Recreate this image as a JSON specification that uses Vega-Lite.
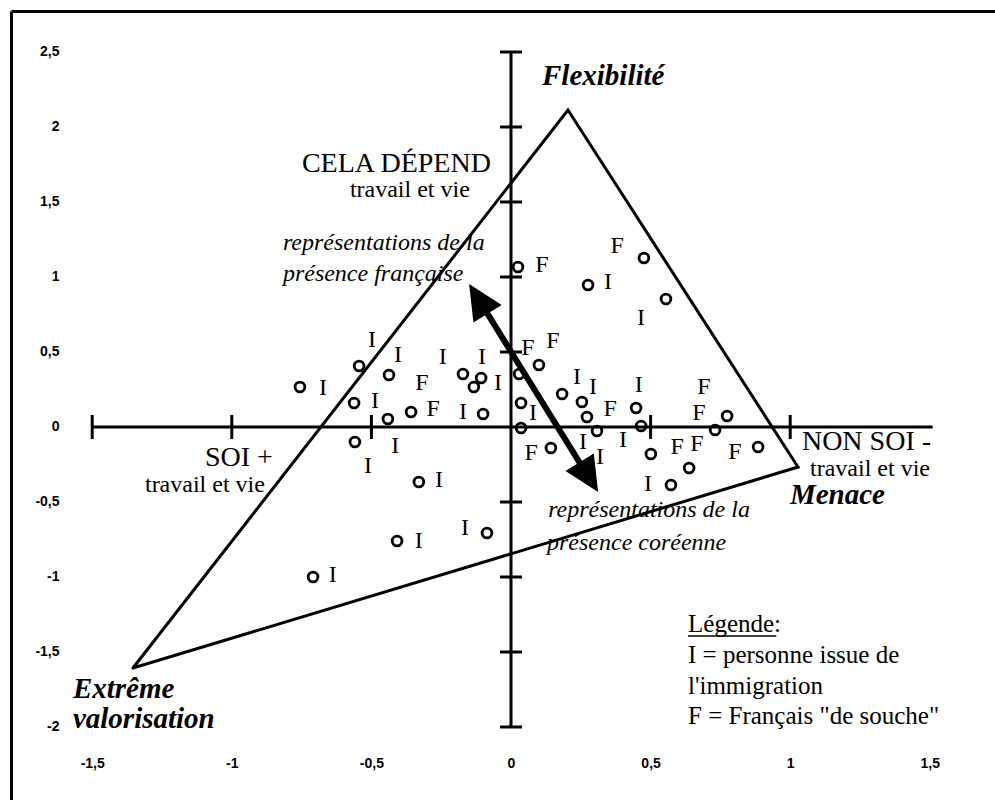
{
  "$schema": "https://vega.github.io/schema/vega-lite/v6.json",
  "width": 984,
  "height": 789,
  "autosize": {"type": "none"},
  "padding": {"left": 11, "top": 11, "right": 0, "bottom": 0},
  "background": "white",
  "config": {"view": {"stroke": null}, "font": "Liberation Serif"},
  "datasets": {
    "points": [
      {"x": -0.756, "y": 0.267}, {"x": -0.544, "y": 0.407}, {"x": -0.437, "y": 0.347},
      {"x": -0.562, "y": 0.160}, {"x": -0.441, "y": 0.053}, {"x": -0.358, "y": 0.100},
      {"x": -0.559, "y": -0.100}, {"x": -0.172, "y": 0.353}, {"x": -0.107, "y": 0.327},
      {"x": -0.133, "y": 0.267}, {"x": -0.100, "y": 0.087}, {"x": -0.330, "y": -0.367},
      {"x": -0.408, "y": -0.760}, {"x": -0.086, "y": -0.707}, {"x": -0.709, "y": -1.000},
      {"x": 0.025, "y": 1.067}, {"x": 0.276, "y": 0.947}, {"x": 0.476, "y": 1.127},
      {"x": 0.555, "y": 0.853}, {"x": 0.100, "y": 0.413}, {"x": 0.029, "y": 0.353},
      {"x": 0.036, "y": 0.160}, {"x": 0.036, "y": -0.007}, {"x": 0.183, "y": 0.220},
      {"x": 0.254, "y": 0.167}, {"x": 0.272, "y": 0.067}, {"x": 0.308, "y": -0.027},
      {"x": 0.448, "y": 0.127}, {"x": 0.466, "y": 0.007}, {"x": 0.774, "y": 0.073},
      {"x": 0.731, "y": -0.020}, {"x": 0.143, "y": -0.140}, {"x": 0.501, "y": -0.180},
      {"x": 0.638, "y": -0.273}, {"x": 0.573, "y": -0.387}, {"x": 0.885, "y": -0.133}
    ],
    "labels": [
      {"x": -0.673, "y": 0.260, "label": "I"}, {"x": -0.498, "y": 0.580, "label": "I"},
      {"x": -0.405, "y": 0.480, "label": "I"}, {"x": -0.487, "y": 0.173, "label": "I"},
      {"x": -0.415, "y": -0.127, "label": "I"}, {"x": -0.512, "y": -0.260, "label": "I"},
      {"x": -0.244, "y": 0.467, "label": "I"}, {"x": -0.104, "y": 0.467, "label": "I"},
      {"x": -0.047, "y": 0.293, "label": "I"}, {"x": -0.172, "y": 0.100, "label": "I"},
      {"x": -0.258, "y": -0.353, "label": "I"}, {"x": -0.330, "y": -0.760, "label": "I"},
      {"x": -0.165, "y": -0.673, "label": "I"}, {"x": -0.638, "y": -0.987, "label": "I"},
      {"x": 0.347, "y": 0.967, "label": "I"}, {"x": 0.466, "y": 0.727, "label": "I"},
      {"x": 0.079, "y": 0.093, "label": "I"}, {"x": 0.236, "y": 0.333, "label": "I"},
      {"x": 0.294, "y": 0.267, "label": "I"}, {"x": 0.458, "y": 0.280, "label": "I"},
      {"x": 0.258, "y": -0.100, "label": "I"}, {"x": 0.319, "y": -0.200, "label": "I"},
      {"x": 0.401, "y": -0.087, "label": "I"}, {"x": 0.491, "y": -0.380, "label": "I"},
      {"x": -0.319, "y": 0.293, "label": "F"}, {"x": -0.279, "y": 0.120, "label": "F"},
      {"x": 0.111, "y": 1.080, "label": "F"}, {"x": 0.380, "y": 1.207, "label": "F"},
      {"x": 0.061, "y": 0.527, "label": "F"}, {"x": 0.150, "y": 0.573, "label": "F"},
      {"x": 0.355, "y": 0.120, "label": "F"}, {"x": 0.691, "y": 0.267, "label": "F"},
      {"x": 0.673, "y": 0.093, "label": "F"}, {"x": 0.072, "y": -0.173, "label": "F"},
      {"x": 0.595, "y": -0.133, "label": "F"}, {"x": 0.666, "y": -0.113, "label": "F"},
      {"x": 0.802, "y": -0.167, "label": "F"}
    ],
    "triangle": [
      {"i": 0, "x": -1.354, "y": -1.607, "vertex": "Extrême valorisation"},
      {"i": 1, "x": 0.204, "y": 2.113, "vertex": "Flexibilité"},
      {"i": 2, "x": 1.028, "y": -0.267, "vertex": "Menace"},
      {"i": 3, "x": -1.354, "y": -1.607, "vertex": "Extrême valorisation"}
    ],
    "axislines": [
      {"x": -1.5, "y": 0, "x2": 1.51, "y2": 0},
      {"x": 0, "y": -2, "x2": 0, "y2": 2.5}
    ],
    "xticks": [
      {"x": -1.5, "y": 0}, {"x": -1, "y": 0}, {"x": -0.5, "y": 0}, {"x": 0.5, "y": 0}, {"x": 1, "y": 0}
    ],
    "yticks": [
      {"x": 0, "y": -2}, {"x": 0, "y": -1.5}, {"x": 0, "y": -1}, {"x": 0, "y": -0.5},
      {"x": 0, "y": 0.5}, {"x": 0, "y": 1}, {"x": 0, "y": 1.5}, {"x": 0, "y": 2}, {"x": 0, "y": 2.5}
    ],
    "shaft": [
      {"x": -0.122, "y": 0.869, "x2": 0.283, "y2": -0.349}
    ],
    "heads": [
      {"end": "française", "x": -0.150, "y": 0.953},
      {"end": "coréenne", "x": 0.312, "y": -0.433}
    ],
    "underline": [
      {"x": 0.634, "y": -1.393, "x2": 0.950, "y2": -1.393}
    ],
    "notes": [
      {"role": "region", "x": -0.749, "y": 1.700, "text": "CELA DÉPEND"},
      {"role": "region", "x": -1.096, "y": -0.260, "text": "SOI +"},
      {"role": "region", "x": 1.042, "y": -0.153, "text": "NON SOI -"},
      {"role": "sub", "x": -0.577, "y": 1.530, "text": "travail et vie"},
      {"role": "sub", "x": -1.311, "y": -0.433, "text": "travail et vie"},
      {"role": "sub", "x": 1.071, "y": -0.327, "text": "travail et vie"},
      {"role": "pole", "x": 0.111, "y": 2.280, "text": "Flexibilité"},
      {"role": "pole", "x": 0.999, "y": -0.513, "text": "Menace"},
      {"role": "pole", "x": -1.569, "y": -1.807, "text": "Extrême"},
      {"role": "pole", "x": -1.569, "y": -2.007, "text": "valorisation"},
      {"role": "arrow", "x": -0.817, "y": 1.180, "text": "représentations de la"},
      {"role": "arrow", "x": -0.817, "y": 0.973, "text": "présence française"},
      {"role": "arrow", "x": 0.133, "y": -0.600, "text": "représentations de la"},
      {"role": "arrow", "x": 0.129, "y": -0.820, "text": "présence coréenne"},
      {"role": "legend", "x": 0.634, "y": -1.367, "text": "Légende:"},
      {"role": "legend", "x": 0.634, "y": -1.573, "text": "I = personne issue de"},
      {"role": "legend", "x": 0.634, "y": -1.780, "text": "l'immigration"},
      {"role": "legend", "x": 0.634, "y": -1.980, "text": "F = Français \"de souche\""}
    ]
  },
  "encoding": {
    "x": {
      "field": "x", "type": "quantitative",
      "scale": {"domain": [-1.7908, 1.7335], "nice": false, "zero": false},
      "axis": {
        "orient": "top", "title": null, "values": [-1.5, -1, -0.5, 0, 0.5, 1, 1.5],
        "domain": true, "domainColor": "black", "domainWidth": 3,
        "ticks": false, "grid": false,
        "labelPadding": -752, "labelBaseline": "middle", "labelAlign": "center",
        "labelFlush": false, "labelOverlap": false, "labelBound": false,
        "labelFont": "Liberation Sans", "labelFontSize": 14, "labelFontWeight": "bold", "labelColor": "black",
        "labelExpr": "replace(toString(datum.value), '.', ',')"
      }
    },
    "y": {
      "field": "y", "type": "quantitative",
      "scale": {"domain": [-2.4867, 2.7733], "nice": false, "zero": false},
      "axis": {
        "orient": "left", "title": null, "values": [-2, -1.5, -1, -0.5, 0, 0.5, 1, 1.5, 2, 2.5],
        "domain": true, "domainColor": "black", "domainWidth": 3,
        "ticks": false, "grid": false,
        "labelPadding": -48, "labelAlign": "right", "labelBaseline": "middle",
        "labelFlush": false, "labelOverlap": false, "labelBound": false,
        "labelFont": "Liberation Sans", "labelFontSize": 14, "labelFontWeight": "bold", "labelColor": "black",
        "labelExpr": "replace(toString(datum.value), '.', ',')"
      }
    }
  },
  "layer": [
    {
      "data": {"name": "axislines"},
      "mark": {"type": "rule", "color": "black", "strokeWidth": 3},
      "encoding": {"x2": {"field": "x2"}, "y2": {"field": "y2"}}
    },
    {
      "data": {"name": "xticks"},
      "mark": {"type": "tick", "orient": "vertical", "size": 24, "thickness": 3, "color": "black", "opacity": 1}
    },
    {
      "data": {"name": "yticks"},
      "mark": {"type": "tick", "orient": "horizontal", "size": 22, "thickness": 3, "color": "black", "opacity": 1}
    },
    {
      "data": {"name": "triangle"},
      "mark": {"type": "line", "color": "black", "strokeWidth": 3, "strokeCap": "round", "strokeJoin": "miter"},
      "encoding": {"order": {"field": "i", "type": "quantitative"}}
    },
    {
      "data": {"name": "shaft"},
      "mark": {"type": "rule", "color": "black", "strokeWidth": 6},
      "encoding": {"x2": {"field": "x2"}, "y2": {"field": "y2"}}
    },
    {
      "data": {"name": "heads"},
      "transform": [{"filter": "datum.end === 'française'"}],
      "mark": {"type": "point", "shape": "M0,0L-0.95,2L0.95,2Z", "size": 1225, "filled": true, "color": "black", "opacity": 1, "angle": 328.2, "strokeWidth": 0}
    },
    {
      "data": {"name": "heads"},
      "transform": [{"filter": "datum.end === 'coréenne'"}],
      "mark": {"type": "point", "shape": "M0,0L-0.95,2L0.95,2Z", "size": 1225, "filled": true, "color": "black", "opacity": 1, "angle": 148.2, "strokeWidth": 0}
    },
    {
      "data": {"name": "points"},
      "mark": {"type": "point", "shape": "circle", "size": 95, "filled": false, "color": "black", "opacity": 1, "strokeWidth": 2.8}
    },
    {
      "data": {"name": "labels"},
      "mark": {"type": "text", "font": "Liberation Serif", "fontSize": 24, "align": "center", "baseline": "middle", "color": "black"},
      "encoding": {"text": {"field": "label"}}
    },
    {
      "data": {"name": "notes"},
      "transform": [{"filter": "datum.role === 'region'"}],
      "mark": {"type": "text", "font": "Liberation Serif", "fontSize": 28, "align": "left", "baseline": "alphabetic", "color": "black"},
      "encoding": {"text": {"field": "text"}}
    },
    {
      "data": {"name": "notes"},
      "transform": [{"filter": "datum.role === 'sub'"}],
      "mark": {"type": "text", "font": "Liberation Serif", "fontSize": 24, "align": "left", "baseline": "alphabetic", "color": "black"},
      "encoding": {"text": {"field": "text"}}
    },
    {
      "data": {"name": "notes"},
      "transform": [{"filter": "datum.role === 'pole'"}],
      "mark": {"type": "text", "font": "Liberation Serif", "fontSize": 29, "fontWeight": "bold", "fontStyle": "italic", "align": "left", "baseline": "alphabetic", "color": "black"},
      "encoding": {"text": {"field": "text"}}
    },
    {
      "data": {"name": "notes"},
      "transform": [{"filter": "datum.role === 'arrow'"}],
      "mark": {"type": "text", "font": "Liberation Serif", "fontSize": 24, "fontStyle": "italic", "align": "left", "baseline": "alphabetic", "color": "black"},
      "encoding": {"text": {"field": "text"}}
    },
    {
      "data": {"name": "notes"},
      "transform": [{"filter": "datum.role === 'legend'"}],
      "mark": {"type": "text", "font": "Liberation Serif", "fontSize": 25, "align": "left", "baseline": "alphabetic", "color": "black"},
      "encoding": {"text": {"field": "text"}}
    },
    {
      "data": {"name": "underline"},
      "mark": {"type": "rule", "color": "black", "strokeWidth": 1.5},
      "encoding": {"x2": {"field": "x2"}, "y2": {"field": "y2"}}
    }
  ]
}
